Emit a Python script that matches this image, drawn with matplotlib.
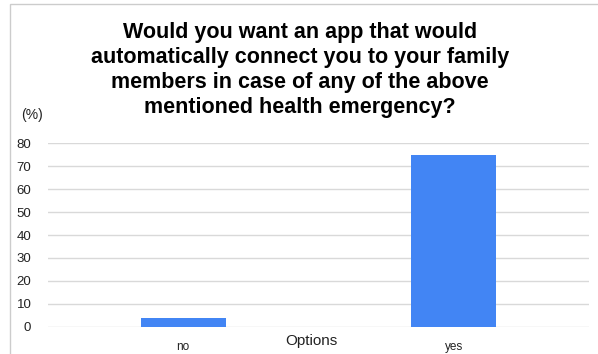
import matplotlib
matplotlib.use("Agg")
import matplotlib.pyplot as plt
from matplotlib.patches import Rectangle

categories = ["no", "yes"]
percent = [4, 75]
yticks = [0, 10, 20, 30, 40, 50, 60, 70, 80]
title = ("Would you want an app that would\n"
         "automatically connect you to your family\n"
         "members in case of any of the above\n"
         "mentioned health emergency?")

plt.rcParams['font.family'] = ['Liberation Sans', 'DejaVu Sans']

fig = plt.figure(figsize=(5.98, 3.54), dpi=100)
ax = fig.add_axes([48 / 598, 27.3 / 354, 541 / 598, 183.4 / 354])

x = range(len(categories))
ax.bar(x, percent, width=0.314, color='#4285f4', zorder=3)
ax.set_xlim(-0.5, 1.5)
ax.set_ylim(0, 80)
ax.set_yticks(yticks)
ax.set_xticks(list(x))
ax.set_xticklabels(categories, fontsize=8.5, color='#222222')
ax.tick_params(axis='y', labelsize=9.5, colors='#222222', length=0, pad=12)
ax.tick_params(axis='x', length=0, pad=10)
ax.grid(axis='y', color='#d9d9d9', linewidth=1, zorder=0)
ax.set_axisbelow(True)
for s in ax.spines.values():
    s.set_visible(False)
ax.set_facecolor('none')

# axis captions
fig.text(311 / 598, 1 - 341 / 354, "Options", ha='center', va='center',
         fontsize=11, color='#222222')
fig.text(32 / 598, 1 - 115 / 354, "(%)", ha='center', va='center',
         fontsize=10, color='#222222')

fig.text(300 / 598, 1 - 70 / 354, title, ha='center', va='center',
         fontsize=15.5, fontweight='bold', linespacing=1.27, color='black')

# thin frame around the chart
fig.patches.append(Rectangle((10 / 598, -0.01), 1.0, 1 - 4 / 354 + 0.01,
                             transform=fig.transFigure, fill=False,
                             edgecolor='#cccccc', linewidth=1))

fig.savefig("out.png", dpi=100, facecolor='white')
